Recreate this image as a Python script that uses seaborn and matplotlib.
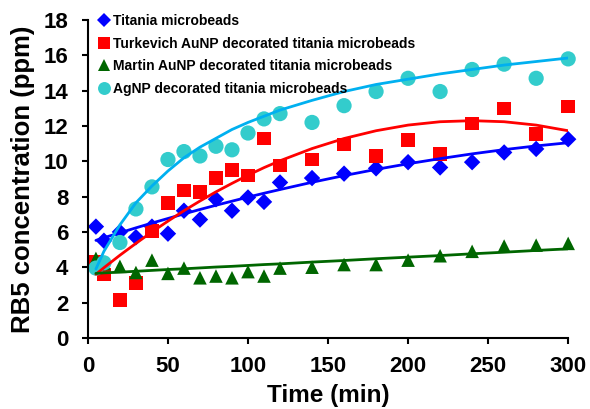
import matplotlib
matplotlib.use('Agg')
import matplotlib.pyplot as plt
import pandas as pd
import seaborn as sns

sns.set_style('ticks')
plt.rcParams['font.family'] = ['Liberation Sans', 'DejaVu Sans']
plt.rcParams['font.weight'] = 'bold'
plt.rcParams['axes.labelweight'] = 'bold'
for k in ['text.color', 'axes.labelcolor', 'xtick.color', 'ytick.color']:
    plt.rcParams[k] = 'black'

times = [5, 10, 20, 30, 40, 50, 60, 70, 80, 90, 100, 110, 120, 140, 160, 180,
         200, 220, 240, 260, 280, 300]

series = ['Titania microbeads',
          'Turkevich AuNP decorated titania microbeads',
          'Martin AuNP decorated titania microbeads',
          'AgNP decorated titania microbeads']

# measured points
titania = [6.3, 5.5, 6.0, 5.7, 6.3, 5.9, 7.2, 6.7, 7.85, 7.2, 7.95, 7.7, 8.8,
           9.05, 9.3, 9.6, 9.95, 9.65, 9.95, 10.5, 10.7, 11.25]
turkevich = [4.3, 3.6, 2.15, 3.1, 6.05, 7.65, 8.35, 8.25, 9.05, 9.5, 9.2, 11.3,
             9.75, 10.1, 10.95, 10.3, 11.2, 10.4, 12.15, 13.0, 11.55, 13.1]
martin = [4.5, 4.2, 4.05, 3.7, 4.4, 3.65, 3.95, 3.4, 3.5, 3.4, 3.75, 3.5, 3.95,
          4.0, 4.15, 4.15, 4.4, 4.65, 4.9, 5.2, 5.25, 5.35]
agnp = [3.95, 4.25, 5.4, 7.3, 8.55, 10.1, 10.55, 10.3, 10.85, 10.65, 11.6, 12.4,
        12.7, 12.2, 13.15, 13.95, 14.7, 13.95, 15.2, 15.5, 14.7, 15.8]

# trend lines
titania_fit = [5.52, 5.67, 5.95, 6.23, 6.5, 6.76, 7.02, 7.27, 7.51, 7.74, 7.97,
               8.19, 8.4, 8.81, 9.19, 9.54, 9.86, 10.15, 10.42, 10.66, 10.87, 11.05]
turkevich_fit = [3.6, 3.97, 4.68, 5.35, 6.0, 6.61, 7.2, 7.75, 8.27, 8.75, 9.21,
                 9.64, 10.03, 10.72, 11.29, 11.73, 12.05, 12.24, 12.3, 12.24, 12.05, 11.73]
martin_fit = [3.65, 3.68, 3.72, 3.77, 3.82, 3.87, 3.91, 3.96, 4.01, 4.05, 4.1,
              4.15, 4.19, 4.29, 4.38, 4.48, 4.57, 4.66, 4.76, 4.85, 4.95, 5.04]
agnp_fit = [3.9, 4.9, 6.4, 7.65, 8.6, 9.45, 10.2, 10.8, 11.3, 11.8, 12.2, 12.55,
            12.9, 13.45, 13.95, 14.35, 14.65, 14.95, 15.2, 15.45, 15.65, 15.85]

n = len(times)
pts = pd.DataFrame({
    'Time (min)': times * 4,
    'conc': titania + turkevich + martin + agnp,
    'series': [s for s in series for _ in range(n)],
})
fits = pd.DataFrame({
    'Time (min)': times * 4,
    'conc': titania_fit + turkevich_fit + martin_fit + agnp_fit,
    'series': [s for s in series for _ in range(n)],
})

marker_colors = dict(zip(series, ['#0000FF', '#FF0000', '#006600', '#33CCCC']))
line_colors = dict(zip(series, ['#0000FF', '#FF0000', '#006600', '#00B0F0']))
markers = dict(zip(series, ['D', 's', '^', 'o']))
sizes = dict(zip(series, [70, 95, 95, 120]))

fig = plt.figure(figsize=(5.9, 4.09), dpi=100)
ax = fig.add_axes([0.149, 0.174, 0.814, 0.777])

sns.scatterplot(data=pts, x='Time (min)', y='conc', hue='series', style='series',
                size='series', palette=marker_colors, markers=markers, sizes=sizes,
                linewidth=0, clip_on=False, zorder=2, ax=ax)
sns.lineplot(data=fits, x='Time (min)', y='conc', hue='series', palette=line_colors,
             linewidth=2, legend=False, sort=False, zorder=3, ax=ax)

ax.set_xlim(0, 300)
ax.set_ylim(0, 18)
ax.set_xticks(range(0, 301, 50))
ax.set_yticks(range(0, 19, 2))
ax.set_xlabel('Time (min)', fontsize=17.5, fontweight='bold', labelpad=5)
ax.set_ylabel('RB5 concentration (ppm)', fontsize=18.5, fontweight='bold', labelpad=6)
ax.tick_params(axis='both', direction='out', length=4, width=1.5, color='black',
               labelsize=16)
ax.tick_params(axis='y', pad=10)
ax.tick_params(axis='x', pad=9)
for lab in ax.get_xticklabels() + ax.get_yticklabels():
    lab.set_fontweight('bold')
sns.despine(ax=ax)
for sp in ['left', 'bottom']:
    ax.spines[sp].set_linewidth(1.5)
    ax.spines[sp].set_color('black')

leg = ax.legend(loc='upper left', bbox_to_anchor=(97 / 590, 1 - 14 / 409),
                bbox_transform=fig.transFigure, frameon=False, borderpad=0,
                borderaxespad=0, handletextpad=0.15, handlelength=1.0,
                markerscale=0.85, labelspacing=0.62,
                prop={'size': 10, 'weight': 'bold'})

fig.savefig('out.png', dpi=100)
